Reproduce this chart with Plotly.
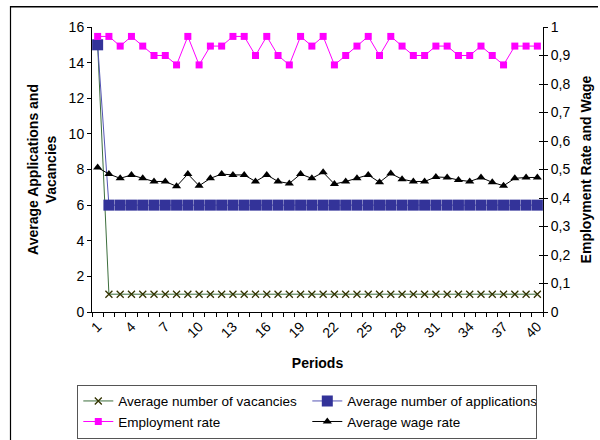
import plotly.graph_objects as go

periods = list(range(1, 41))
tick_labels = ["1", "4", "7", "10", "13", "16", "19", "22", "25", "28", "31", "34", "37", "40"]
tick_positions = [1, 4, 7, 10, 13, 16, 19, 22, 25, 28, 31, 34, 37, 40]

vacancies = [15, 1, 1, 1, 1, 1, 1, 1, 1, 1, 1, 1, 1, 1, 1, 1, 1, 1, 1, 1,
             1, 1, 1, 1, 1, 1, 1, 1, 1, 1, 1, 1, 1, 1, 1, 1, 1, 1, 1, 1]
applications = [15, 6, 6, 6, 6, 6, 6, 6, 6, 6, 6, 6, 6, 6, 6, 6, 6, 6, 6, 6,
                6, 6, 6, 6, 6, 6, 6, 6, 6, 6, 6, 6, 6, 6, 6, 6, 6, 6, 6, 6]
employment = [0.967, 0.967, 0.933, 0.967, 0.933, 0.900, 0.900, 0.867, 0.967, 0.867,
              0.933, 0.933, 0.967, 0.967, 0.900, 0.967, 0.900, 0.867, 0.967, 0.933,
              0.967, 0.867, 0.900, 0.933, 0.967, 0.900, 0.967, 0.933, 0.900, 0.900,
              0.933, 0.933, 0.900, 0.900, 0.933, 0.900, 0.867, 0.933, 0.933, 0.933]
wage = [0.507, 0.484, 0.469, 0.481, 0.469, 0.458, 0.458, 0.441, 0.484, 0.443,
        0.469, 0.484, 0.481, 0.481, 0.458, 0.481, 0.458, 0.451, 0.484, 0.469,
        0.490, 0.449, 0.458, 0.469, 0.481, 0.455, 0.486, 0.466, 0.458, 0.458,
        0.474, 0.472, 0.463, 0.458, 0.472, 0.455, 0.443, 0.469, 0.472, 0.472]

FONT = "Liberation Sans, Arial, sans-serif"

fig = go.Figure()
fig.add_trace(go.Scatter(
    x=periods, y=vacancies, name="Average number of vacancies", mode="lines+markers",
    line=dict(color="#3C6E3C", width=1),
    marker=dict(symbol="x-thin", size=7, line=dict(color="#333300", width=1.3)),
    yaxis="y"))
fig.add_trace(go.Scatter(
    x=periods, y=applications, name="Average number of applications", mode="lines+markers",
    line=dict(color="#5555B5", width=1),
    marker=dict(symbol="square", size=11, color="#333399", line=dict(width=0)),
    yaxis="y"))
fig.add_trace(go.Scatter(
    x=periods, y=employment, name="Employment rate", mode="lines+markers",
    line=dict(color="#FF00FF", width=1),
    marker=dict(symbol="square", size=7, color="#FF00FF", line=dict(width=0)),
    yaxis="y2"))
fig.add_trace(go.Scatter(
    x=periods, y=wage, name="Average wage rate", mode="lines+markers",
    line=dict(color="#000000", width=1),
    marker=dict(symbol="triangle-up", size=8, color="#000000", line=dict(width=0)),
    yaxis="y2"))
# invisible helper trace for the crossing ticks axis
fig.add_trace(go.Scatter(x=[periods[0]], y=[0], yaxis="y3", mode="markers",
                         marker=dict(opacity=0), showlegend=False, hoverinfo="skip"))

PX = lambda px: (px - 92) / 451
PY = lambda py: (312 - py) / 285

fig.update_layout(
    width=600, height=440,
    margin=dict(l=92, r=57, t=27, b=128, autoexpand=False),
    paper_bgcolor="white", plot_bgcolor="white",
    font=dict(family=FONT, size=14, color="black"),
    separators=", ",
    showlegend=True,
    xaxis=dict(
        range=[0.5, 40.5], tickmode="array", tickvals=tick_positions, ticktext=tick_labels,
        tickangle=-45, ticks="", showgrid=False, zeroline=False,
        showline=True, linecolor="black", linewidth=1,
        minor=dict(tick0=0.5, dtick=1, ticks="outside", ticklen=4, tickcolor="black", showgrid=False),
        title=dict(text="<b>Periods</b>", font=dict(size=14), standoff=18),
        tickfont=dict(size=14), automargin=False,
    ),
    yaxis=dict(
        range=[0, 16], dtick=2, ticks="outside", ticklen=4, tickcolor="black",
        showgrid=False, zeroline=False, showline=True, linecolor="black", linewidth=1,
        title=dict(text="<b>Average Applications and<br>Vacancies</b>", font=dict(size=14), standoff=8),
        tickfont=dict(size=14), automargin=False,
    ),
    yaxis2=dict(
        range=[0, 1], dtick=0.1, overlaying="y", side="right", anchor="x",
        ticks="outside", ticklen=4, tickcolor="black",
        showgrid=False, zeroline=False, showline=True, linecolor="black", linewidth=1,
        title=dict(text="<b>Employment Rate and Wage</b>", font=dict(size=14), standoff=11),
        tickfont=dict(size=14), automargin=False,
    ),
    yaxis3=dict(
        range=[0, 1], dtick=0.1, overlaying="y", side="right", anchor="x",
        ticks="inside", ticklen=4, tickcolor="black", showticklabels=False,
        showgrid=False, zeroline=False, showline=False, automargin=False,
    ),
    legend=dict(
        orientation="h", x=-0.0326, y=-0.255, xanchor="left", yanchor="top",
        bordercolor="#555555", borderwidth=1, bgcolor="white",
        entrywidth=184, entrywidthmode="pixels",
        font=dict(size=13.5), itemwidth=30,
    ),
    shapes=[
        dict(type="rect", xref="paper", yref="paper",
             x0=PX(10.5), x1=PX(598), y0=PY(6), y1=PY(7.5),
             line=dict(width=0), fillcolor="black", layer="above"),
        dict(type="line", xref="paper", yref="paper",
             x0=PX(10.5), x1=PX(10.5), y0=PY(6), y1=PY(440),
             line=dict(color="black", width=1.2), layer="above"),
    ],
)

fig.write_html("out.html", config={"displayModeBar": False},
               post_script="document.body.style.margin='0px';document.body.style.overflow='hidden';")
